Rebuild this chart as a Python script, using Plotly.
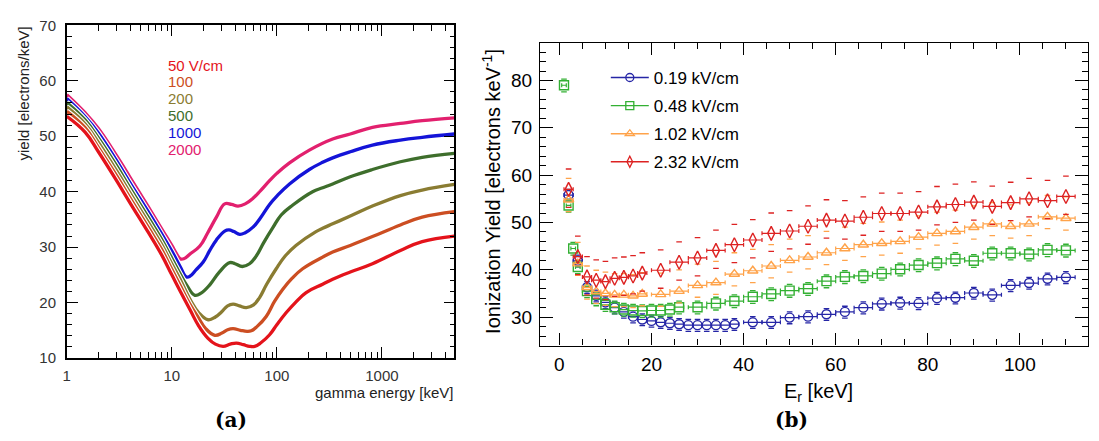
import plotly.graph_objects as go

W, H = 1099, 441

# ---------------- Panel (a): yield vs gamma energy ----------------
field_labels = ["50 V/cm", "100", "200", "500", "1000", "2000"]
field_colors = ["#e4131b", "#cc4e22", "#8a7c32", "#3e6e2c", "#1414d8", "#e2206e"]

E_50 = [1, 1.5, 2, 3, 4, 6, 8, 10, 12, 15, 18, 22, 26, 30.8, 36, 41.2, 48, 55, 61.5, 70, 85.3, 100, 123, 150, 190, 273, 340, 500, 813, 1500, 2420, 4900]
Y_50 = [53.6, 50.7, 47.2, 41.9, 38.0, 32.6, 28.6, 25.0, 22.1, 18.6, 15.8, 13.6, 12.5, 12.1, 12.5, 12.7, 12.4, 12.1, 12.1, 12.7, 14.2, 16.0, 18.2, 20.0, 21.8, 23.3, 24.2, 25.5, 27.0, 29.4, 31.0, 32.0]

E_100 = [1, 1.5, 2, 3, 4, 6, 8, 10, 12, 15, 18, 21, 25.7, 30, 34, 38.3, 45, 52, 57.1, 65, 79.2, 95, 114, 140, 176, 273, 340, 500, 813, 1500, 2420, 4900]
Y_100 = [54.5, 51.5, 48.0, 42.8, 38.9, 33.5, 29.6, 26.0, 23.1, 19.6, 17.2, 15.3, 14.1, 14.5, 15.1, 15.3, 15.0, 14.8, 14.9, 15.7, 17.5, 20.2, 22.4, 24.4, 26.1, 28.2, 29.1, 30.3, 31.9, 34.0, 35.4, 36.4]

E_200 = [1, 1.5, 2, 3, 4, 6, 8, 10, 12, 15, 18, 22.2, 26, 29.7, 34, 38.3, 44, 51.2, 60, 68.5, 80, 98.6, 120, 152, 236, 273, 340, 500, 813, 1500, 2420, 4900]
Y_200 = [55.3, 52.2, 48.9, 43.7, 39.8, 34.4, 30.5, 27.0, 24.2, 20.5, 18.2, 16.9, 17.4, 18.3, 19.4, 19.7, 19.4, 19.1, 19.6, 20.9, 23.3, 26.1, 28.4, 30.3, 32.8, 33.4, 34.2, 35.6, 37.4, 39.3, 40.3, 41.3]

E_500 = [1, 1.5, 2, 3, 4, 6, 8, 10, 12, 14, 16.6, 19, 23, 28.6, 35.6, 40, 46.9, 55, 63.7, 75, 91.6, 110, 142, 219, 273, 340, 500, 813, 1500, 2420, 4900]
Y_500 = [56.1, 52.9, 49.7, 44.6, 40.7, 35.3, 31.4, 28.0, 25.2, 23.0, 21.3, 21.7, 23.2, 25.6, 27.2, 27.0, 26.5, 27.0, 28.4, 30.8, 33.5, 35.8, 37.6, 40.0, 40.7, 41.4, 42.7, 44.0, 45.4, 46.2, 46.9]

E_1000 = [1, 1.5, 2, 3, 4, 6, 8, 10, 12, 13.8, 15, 17, 19.9, 23, 26.6, 31.9, 35, 39, 44.3, 50, 59.3, 70, 85.3, 100, 132, 204, 273, 340, 500, 813, 1500, 2420, 4900]
Y_1000 = [56.8, 53.5, 50.6, 45.5, 41.6, 36.3, 32.4, 29.3, 26.5, 24.6, 24.8, 25.9, 27.3, 29.4, 31.3, 32.9, 33.1, 32.8, 32.3, 32.6, 33.6, 35.3, 37.7, 39.2, 41.4, 44.0, 45.3, 46.1, 47.2, 48.4, 49.3, 49.8, 50.4]

E_2000 = [1, 1.5, 2, 3, 4, 6, 8, 10, 11, 12, 13, 15, 18.5, 22, 26.6, 31.9, 37, 42.7, 50, 59.3, 70, 85.3, 100, 132, 204, 340, 500, 813, 1500, 2420, 4900]
Y_2000 = [57.5, 54.2, 51.4, 46.4, 42.6, 37.2, 33.3, 30.3, 28.9, 27.9, 27.9, 28.8, 30.2, 32.6, 35.4, 37.8, 37.7, 37.4, 37.8, 38.8, 40.2, 42.0, 43.3, 45.2, 47.5, 49.5, 50.4, 51.6, 52.3, 52.8, 53.3]

curves_a = [(E_50, Y_50), (E_100, Y_100), (E_200, Y_200), (E_500, Y_500), (E_1000, Y_1000), (E_2000, Y_2000)]

log_minor_ticks = [2, 3, 4, 5, 6, 7, 8, 9, 20, 30, 40, 50, 60, 70, 80, 90,
                   200, 300, 400, 500, 600, 700, 800, 900, 2000, 3000, 4000]

# ---------------- Panel (b): ionization yield vs recoil energy ----------------
series_names = ["0.19 kV/cm", "0.48 kV/cm", "1.02 kV/cm", "2.32 kV/cm"]
series_colors = ["#2626a6", "#33b033", "#ffa34a", "#dd2222"]
series_symbols = ["circle-open", "square-open", "triangle-up-open", "diamond-tall-open"]

x_019 = [2, 4, 6, 8, 10, 12, 14, 16, 18, 20, 22, 24, 26, 28, 30, 32, 34, 36, 38,
         42, 46, 50, 54, 58, 62, 66, 70, 74, 78, 82, 86, 90, 94, 98, 102, 106, 110]
y_019 = [55.8, 41.9, 36.3, 34.5, 33.1, 32.0, 31.1, 30.1, 29.5, 29.2, 28.9, 28.7, 28.5, 28.3, 28.3, 28.3, 28.3, 28.3, 28.5,
         28.9, 28.9, 29.9, 30.1, 30.6, 31.1, 32.0, 32.8, 33.0, 32.9, 34.0, 34.1, 35.1, 34.7, 36.7, 37.2, 38.1, 38.4]

x_048 = [1, 2, 3, 4, 6, 8, 10, 12, 14, 16, 18, 20, 22, 24, 26,
         30, 34, 38, 42, 46, 50, 54, 58, 62, 66, 70, 74, 78, 82, 86, 90, 94, 98, 102, 106, 110]
y_048 = [79.0, 53.6, 44.5, 40.6, 35.5, 33.8, 32.6, 32.1, 31.6, 31.4, 31.3, 31.4, 31.4, 31.6, 32.1,
         32.1, 32.9, 33.4, 34.3, 34.9, 35.6, 36.0, 37.6, 38.5, 38.7, 39.2, 40.1, 41.0, 41.4, 42.3, 41.9, 43.5, 43.5, 43.3, 44.2, 44.1]

x_102 = [2, 4, 6, 8, 10, 12, 14, 16, 18,
         22, 26, 30, 34, 38, 42, 46, 50, 54, 58, 62, 66, 70, 74, 78, 82, 86, 90, 94, 98, 102, 106, 110]
y_102 = [54.8, 41.3, 36.3, 35.4, 35.0, 34.7, 34.7, 34.5, 34.9,
         34.8, 35.5, 36.7, 37.3, 39.1, 39.8, 40.8, 42.0, 42.7, 43.6, 44.5, 45.3, 45.6, 46.0, 46.9, 47.7, 48.1, 49.0, 49.7, 49.2, 49.7, 51.2, 50.9]

x_232 = [2, 4, 6, 8, 10, 12, 14, 16, 18,
         22, 26, 30, 34, 38, 42, 46, 50, 54, 58, 62, 66, 70, 74, 78, 82, 86, 90, 94, 98, 102, 106, 110]
y_232 = [57.0, 42.8, 38.5, 37.8, 37.5, 38.2, 38.4, 38.7, 39.3,
         39.9, 41.6, 42.5, 44.1, 45.3, 46.3, 47.7, 48.2, 49.2, 50.5, 50.3, 51.1, 51.9, 51.9, 52.2, 53.3, 53.8, 54.3, 53.4, 54.2, 55.0, 54.6, 55.5]

# systematic uncertainty (upper, lower), keV^-1
sys_up = [1.2, 1.3, 4.5, 4.3]
sys_dn = [1.3, 1.4, 2.5, 3.8]

series_b = [(x_019, y_019), (x_048, y_048), (x_102, y_102), (x_232, y_232)]

FONT = "Liberation Sans, Arial, sans-serif"


def pxx(v):
    return v / W


def pxy(v):
    return 1 - v / H


fig = go.Figure()

# Panel (a) curves, drawn top curve first so the lower ones sit on top
for (E, Y), col in list(zip(curves_a, field_colors))[::-1]:
    fig.add_trace(go.Scatter(x=E, y=Y, mode="lines", xaxis="x", yaxis="y",
                             line=dict(color="white", width=5.5, shape="spline", smoothing=1.2),
                             hoverinfo="skip", showlegend=False))
    fig.add_trace(go.Scatter(x=E, y=Y, mode="lines", xaxis="x", yaxis="y",
                             line=dict(color=col, width=3.3, shape="spline", smoothing=1.2),
                             showlegend=False))


def half_bins(xs):
    out = []
    for i in range(len(xs)):
        gaps = []
        if i > 0:
            gaps.append(xs[i] - xs[i - 1])
        if i < len(xs) - 1:
            gaps.append(xs[i + 1] - xs[i])
        out.append(min(gaps) / 2.0)
    return out


# Panel (b) points
for (xs, ys), name, col, sym, su, sd in zip(series_b, series_names, series_colors, series_symbols, sys_up, sys_dn):
    # systematic dashes
    fig.add_trace(go.Scatter(x=xs + xs, y=[v + su for v in ys] + [v - sd for v in ys],
                             mode="markers", xaxis="x2", yaxis="y2",
                             marker=dict(symbol="line-ew-open", size=4, color=col,
                                         line=dict(color=col, width=1.3)),
                             hoverinfo="skip", showlegend=False))
    fig.add_trace(go.Scatter(x=xs, y=ys, mode="markers", xaxis="x2", yaxis="y2",
                             marker=dict(symbol=sym, size=9 if "diamond" not in sym else 10,
                                         color=col, line=dict(color=col, width=1.4)),
                             error_x=dict(type="data", array=half_bins(xs), color=col,
                                          thickness=1.2, width=2),
                             showlegend=False, name=name))
    # legend entry
    fig.add_trace(go.Scatter(x=[None], y=[None], mode="lines+markers", xaxis="x2", yaxis="y2",
                             line=dict(color=col, width=1.4),
                             marker=dict(symbol=sym, size=8, color=col, line=dict(color=col, width=1.3)),
                             name=name, legendgroup=name, showlegend=True))

axis_common = dict(showgrid=False, zeroline=False, showline=True, linecolor="black",
                   ticks="inside", mirror="ticks", tickcolor="black")

fig.update_layout(
    width=W, height=H,
    margin=dict(l=0, r=0, t=0, b=0),
    paper_bgcolor="white", plot_bgcolor="white",
    font=dict(family=FONT, color="black"),
    xaxis=dict(axis_common, type="log", range=[0, 3.69], domain=[pxx(63), pxx(452)], anchor="y",
               dtick=1, exponentformat="none", ticklen=11, tickwidth=1.3, linewidth=1.5,
               tickfont=dict(size=15, color="#333333", family=FONT), ticklabelstandoff=3,
               minor=dict(tickmode="array", tickvals=log_minor_ticks, ticks="inside", ticklen=6,
                          tickcolor="black", tickwidth=1.1)),
    yaxis=dict(axis_common, range=[10, 70], domain=[pxy(363), pxy(17)], anchor="x",
               dtick=10, ticklen=11, tickwidth=1.3, linewidth=1.5,
               tickfont=dict(size=15, color="#333333", family=FONT), ticklabelstandoff=6,
               minor=dict(dtick=2, ticks="inside", ticklen=5, tickcolor="black", tickwidth=1.1)),
    xaxis2=dict(axis_common, range=[-4.2, 114.8], domain=[pxx(538), pxx(1088)], anchor="y2",
                tick0=0, dtick=20, ticklen=12, tickwidth=1.1, linewidth=1.1,
                tickfont=dict(size=19, family=FONT), ticklabelstandoff=2,
                minor=dict(dtick=5, ticks="inside", ticklen=6, tickcolor="black", tickwidth=1)),
    yaxis2=dict(axis_common, range=[24, 88], domain=[pxy(350), pxy(35)], anchor="x2",
                tick0=0, dtick=10, ticklen=13, tickwidth=1.1, linewidth=1.1,
                tickfont=dict(size=19, family=FONT), ticklabelstandoff=3,
                minor=dict(dtick=2, ticks="inside", ticklen=6, tickcolor="black", tickwidth=1)),
    legend=dict(x=pxx(604), y=pxy(53), xanchor="left", yanchor="top",
                font=dict(size=17, family=FONT), bgcolor="rgba(0,0,0,0)",
                tracegroupgap=3, itemwidth=38),
)

annotations = []
# Panel (a) field labels
for i, (lab, col) in enumerate(zip(field_labels, field_colors)):
    annotations.append(dict(text=lab, x=pxx(163), y=pxy(58.3 + 17.5 * i),
                            xanchor="left", font=dict(size=15, color=col, family=FONT)))
annotations += [
    dict(text="yield [electrons/keV]", x=pxx(20), y=pxy(88), textangle=-90,
         font=dict(size=15, color="#222222", family=FONT)),
    dict(text="gamma energy [keV]", x=pxx(453), y=pxy(399), xanchor="right",
         font=dict(size=15, color="#222222", family=FONT)),
    dict(text="Ionization Yield [electrons keV<sup>-1</sup>]", x=pxx(489), y=pxy(190), textangle=-90,
         font=dict(size=20, family=FONT)),
    dict(text="E<sub>r</sub> [keV]", x=pxx(817), y=pxy(399),
         font=dict(size=20, family=FONT)),
    dict(text="<b>(a)</b>", x=pxx(228), y=pxy(427), font=dict(size=20, family="DejaVu Serif, serif")),
    dict(text="<b>(b)</b>", x=pxx(790), y=pxy(427), font=dict(size=20, family="DejaVu Serif, serif")),
]
for a in annotations:
    a.setdefault("xref", "paper")
    a.setdefault("yref", "paper")
    a.setdefault("showarrow", False)
    a.setdefault("xanchor", "center")
    a.setdefault("yanchor", "middle")
fig.update_layout(annotations=annotations)

fig.write_html("out.html")
